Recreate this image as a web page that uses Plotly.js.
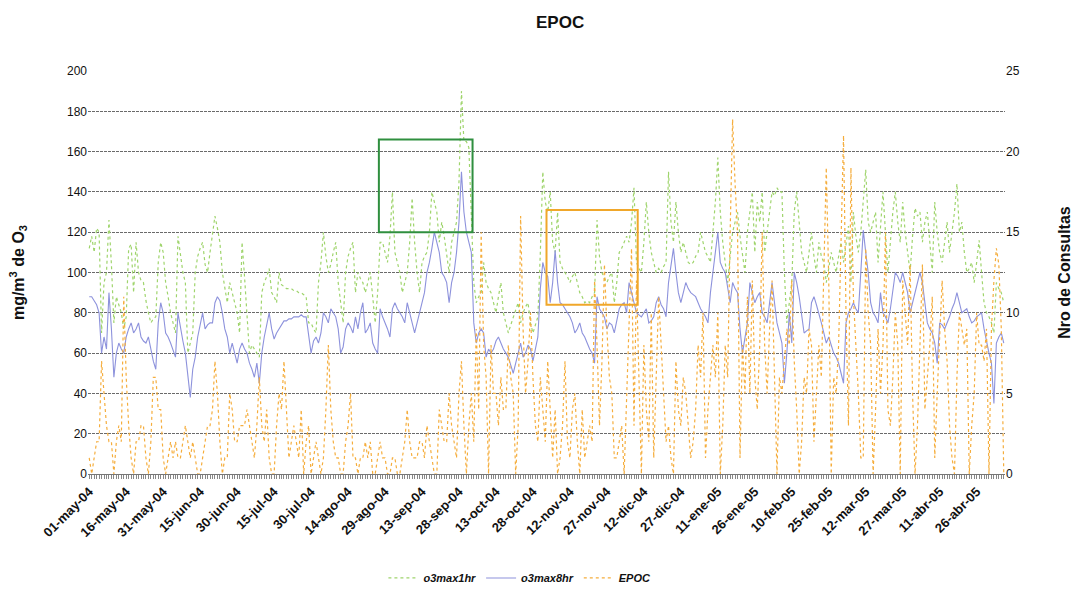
<!DOCTYPE html>
<html>
<head>
<meta charset="utf-8">
<script src="https://cdn.plot.ly/plotly-3.0.1.min.js"></script>
<style>
  html, body { margin: 0; padding: 0; background: #fff; }
  #chart { width: 1073px; height: 590px; }
</style>
</head>
<body>
<div id="chart"></div>
<script>
// Serie diaria desde el 01-may-04 (372 días)
const inicio = new Date(2004, 4, 1);
const numDias = 372;
const mesesAbrev = ['ene', 'feb', 'mar', 'abr', 'may', 'jun', 'jul', 'ago', 'sep', 'oct', 'nov', 'dic'];

// Máximo horario de ozono (mg/m3)
const o3max1hr = [
  112, 118, 110, 122, 120, 70, 95, 100, 126, 104,
  75, 88, 84, 80, 72, 78, 112, 114, 90, 115,
  100, 96, 95, 86, 80, 75, 77, 78, 105, 115,
  110, 95, 88, 80, 75, 70, 118, 108, 100, 95,
  60, 65, 70, 100, 108, 112, 115, 104, 100, 110,
  118, 128, 122, 115, 100, 92, 85, 95, 90, 84,
  80, 70, 115, 98, 80, 60, 64, 62, 60, 58,
  90, 95, 98, 102, 90, 88, 85, 100, 94, 93,
  92, 92, 92, 91, 91, 90, 90, 89, 88, 75,
  75, 72, 70, 95, 105, 120, 108, 100, 104, 110,
  115, 95, 85, 75, 100, 108, 112, 115, 90, 100,
  97, 95, 90, 95, 100, 88, 75, 90, 115, 115,
  110, 105, 118, 140, 110, 105, 100, 90, 95, 100,
  115, 137, 115, 100, 90, 105, 108, 110, 120, 140,
  135, 130, 115, 125, 118, 110, 100, 115, 120, 125,
  145, 190, 165, 165, 162, 130, 95, 85, 88, 90,
  105, 95, 92, 90, 85, 80, 88, 95, 80, 75,
  70, 74, 78, 82, 85, 75, 80, 83, 85, 75,
  70, 74, 78, 110, 150, 135, 130, 140, 115, 110,
  130, 105, 102, 100, 98, 95, 98, 100, 95, 90,
  88, 85, 86, 85, 88, 90, 126, 108, 100, 97,
  95, 98, 100, 85, 95, 110, 112, 115, 118, 115,
  125, 142, 105, 102, 100, 115, 135, 120, 110, 105,
  100, 102, 100, 103, 105, 150, 125, 115, 135, 120,
  110, 115, 110, 105, 104, 105, 108, 110, 120, 115,
  110, 108, 105, 120, 135, 157, 130, 115, 105, 95,
  108, 120, 125, 130, 118, 110, 100, 120, 130, 140,
  110, 135, 125, 140, 110, 120, 130, 140, 138, 142,
  140, 140, 100, 75, 85, 95, 130, 140, 125, 110,
  105, 100, 110, 120, 108, 100, 115, 108, 105, 95,
  102, 110, 105, 100, 108, 115, 105, 115, 123, 95,
  130, 118, 110, 120, 136, 151, 125, 120, 125, 130,
  105, 125, 140, 120, 100, 115, 130, 140, 125, 115,
  135, 120, 110, 100, 118, 132, 128, 130, 115, 125,
  130, 115, 100, 135, 120, 110, 105, 115, 125, 110,
  120, 130, 144, 120, 125, 110, 100, 102, 105, 95,
  105, 116, 100, 85, 80, 78, 75, 70, 95, 92,
  90, 85
];

// Máximo de la media móvil de 8 horas (mg/m3)
const o3max8hr = [
  88, 88, 86, 84, 80, 60, 68, 62, 90, 72,
  48, 60, 65, 62, 60, 68, 72, 75, 70, 72,
  75, 68, 66, 65, 68, 62, 56, 52, 75, 85,
  80, 70, 68, 65, 62, 58, 80, 72, 66, 60,
  48, 38, 52, 58, 68, 75, 80, 72, 74, 75,
  75, 85, 88, 86, 80, 72, 68, 60, 65, 60,
  55, 62, 65, 62, 60, 55, 52, 48, 55, 45,
  60, 68, 75, 80, 72, 67, 70, 72, 74, 76,
  76, 77, 77, 78, 78, 78, 79, 78, 78, 70,
  60, 66, 68, 65, 70, 80, 78, 75, 82, 80,
  78, 72, 60, 63, 72, 75, 73, 70, 78, 72,
  80, 85, 70, 72, 75, 65, 62, 60, 82, 78,
  75, 72, 68, 82, 85, 82, 80, 78, 75, 85,
  80, 75, 70, 75, 80, 85, 90, 100, 105, 112,
  120, 115, 110, 100, 98, 95, 85, 95, 100, 110,
  125, 150, 130, 120, 115, 110, 75, 65, 70, 72,
  70, 58, 62, 60, 62, 66, 68, 65, 62, 60,
  58, 54, 50, 55, 60, 65, 58, 60, 64, 62,
  56, 62, 68, 92, 105, 100, 98, 85, 95, 111,
  95, 85, 84, 82, 80, 78, 75, 70, 72, 75,
  70, 68, 65, 62, 60, 55, 88, 82, 80, 78,
  72, 75, 74, 70, 76, 82, 84, 85, 80, 95,
  90, 85, 80, 79, 78, 80, 82, 75, 76, 78,
  85, 88, 84, 82, 78, 95, 105, 112, 100, 90,
  85, 90, 95, 92, 90, 89, 88, 85, 82, 80,
  78, 75, 90, 100, 110, 120, 105, 102, 100, 92,
  85, 95, 92, 90, 72, 60, 68, 75, 95, 90,
  85, 88, 90, 80, 78, 75, 85, 95, 85, 75,
  70, 65, 45, 60, 80, 65, 100, 95, 88, 80,
  70, 71, 72, 85, 88, 84, 80, 75, 70, 65,
  68, 64, 60, 58, 55, 50, 45, 75, 80, 82,
  85, 82, 80, 100, 121, 110, 100, 85, 80, 78,
  75, 90, 80, 78, 75, 82, 90, 100, 98, 95,
  100, 95, 90, 80, 85, 90, 95, 100, 95, 85,
  75, 72, 70, 65, 55, 75, 74, 72, 75, 78,
  82, 85, 90, 85, 80, 81, 82, 78, 75, 76,
  78, 79, 80, 72, 65, 60, 55, 35, 65, 68,
  70, 65
];

// Número de consultas por EPOC
const epoc = [
  1, 0, 1, 2, 2, 7, 5, 3, 2, 2,
  0, 2, 3, 2, 11, 6, 3, 1, 0, 2,
  2, 3, 3, 1, 0, 2, 6, 6, 4, 4,
  1, 0, 1, 2, 1, 2, 1, 1, 2, 3,
  2, 1, 2, 1, 0, 0, 1, 2, 3, 3,
  4, 7, 5, 2, 0, 1, 1, 5, 4, 2,
  2, 3, 3, 3, 4, 3, 2, 1, 3, 6,
  3, 2, 4, 1, 0, 0, 3, 5, 4, 7,
  4, 1, 2, 3, 2, 1, 4, 0, 2, 3,
  0, 1, 2, 1, 0, 1, 4, 8, 4, 2,
  1, 1, 0, 0, 2, 3, 5, 1, 1, 0,
  1, 1, 2, 1, 2, 0, 0, 1, 2, 1,
  1, 0, 0, 1, 1, 0, 0, 1, 2, 4,
  2, 1, 1, 1, 2, 2, 1, 3, 2, 1,
  0, 0, 4, 3, 2, 2, 5, 3, 2, 1,
  5, 7, 3, 0, 3, 5, 2, 9, 4, 15,
  8, 6, 0, 8, 5, 5, 3, 6, 4, 4,
  8, 6, 5, 0, 3, 16, 9, 5, 7, 10,
  6, 3, 2, 6, 4, 2, 7, 4, 1, 4,
  0, 1, 3, 7, 2, 1, 4, 5, 2, 0,
  4, 1, 2, 3, 2, 12, 8, 3, 7, 13,
  9, 6, 5, 1, 1, 2, 3, 0, 5, 10,
  14, 3, 12, 6, 0, 8, 4, 2, 10, 1,
  6, 11, 8, 5, 2, 3, 1, 0, 7, 4,
  3, 6, 5, 3, 1, 2, 4, 8, 6, 10,
  1, 4, 6, 8, 6, 10, 0, 3, 8, 6,
  15, 22, 18, 15, 1, 8, 5, 11, 5, 12,
  6, 4, 8, 15, 8, 5, 9, 12, 6, 0,
  6, 5, 7, 9, 8, 12, 7, 4, 0, 2,
  6, 5, 9, 8, 2, 5, 8, 6, 13, 19,
  12, 0, 6, 5, 8, 14, 21, 10, 3, 19,
  11, 8, 5, 1, 1, 14, 10, 8, 0, 4,
  9, 5, 8, 15, 4, 3, 6, 10, 8, 0,
  12, 10, 8, 13, 5, 0, 3, 8, 13, 4,
  6, 8, 11, 1, 5, 9, 12, 9, 7, 3,
  1, 0, 6, 10, 9, 8, 9, 0, 3, 5,
  10, 8, 8, 7, 9, 0, 9, 12, 14, 13,
  9, 0
];

// Etiquetas de fecha dd-mmm-aa
const fechas = [];
for (let i = 0; i < numDias; i++) {
  const d = new Date(inicio.getFullYear(), inicio.getMonth(), inicio.getDate() + i);
  const dd = String(d.getDate()).padStart(2, '0');
  const aa = String(d.getFullYear() % 100).padStart(2, '0');
  fechas.push(dd + '-' + mesesAbrev[d.getMonth()] + '-' + aa);
}
// Rótulo cada 15 días; marca en todos los días
const paso = 15;
const textoTicks = fechas.map((f, i) => (i % paso === 0 ? f : ''));

const fuente = 'Liberation Sans, Arial, sans-serif';

const trazas = [
  {
    name: 'o3max1hr', x: fechas, y: o3max1hr, type: 'scatter', mode: 'lines',
    line: { color: '#9fd46c', width: 1.2, dash: 'dot' }, yaxis: 'y'
  },
  {
    name: 'o3max8hr', x: fechas, y: o3max8hr, type: 'scatter', mode: 'lines',
    line: { color: '#8d92dc', width: 1.1 }, yaxis: 'y'
  },
  {
    name: 'EPOC', x: fechas, y: epoc, type: 'scatter', mode: 'lines',
    line: { color: '#f5ad3c', width: 1.2, dash: 'dot' }, yaxis: 'y2'
  }
];

const layout = {
  width: 1073, height: 590,
  margin: { l: 88, r: 68, t: 71, b: 116, autoexpand: false },
  paper_bgcolor: '#ffffff', plot_bgcolor: '#ffffff',
  showlegend: true,
  title: {
    text: '<b>EPOC</b>', x: 0.522, xanchor: 'center', y: 0.962, yanchor: 'middle',
    font: { family: fuente, size: 17, color: '#111' }
  },
  xaxis: {
    type: 'category', automargin: false,
    range: [-0.5, numDias - 0.5],
    tickmode: 'array', tickvals: fechas, ticktext: textoTicks,
    tickangle: -45, ticks: 'outside', ticklen: 4, tickcolor: '#888', tickwidth: 1,
    showgrid: false, zeroline: false,
    showline: true, linecolor: '#777', linewidth: 1,
    tickfont: { family: fuente, size: 13, color: '#111', weight: 'bold' }
  },
  yaxis: {
    range: [0, 200], tickmode: 'linear', tick0: 0, dtick: 20, automargin: false,
    showgrid: true, gridcolor: '#6a6a6a', gridwidth: 1, griddash: '3px,1px',
    zeroline: false, showline: false, ticks: '',
    tickfont: { family: fuente, size: 12, color: '#111' },
    title: {
      text: '<b>mg/m<sup>3</sup> de O<sub>3</sub></b>', standoff: 38,
      font: { family: fuente, size: 16, color: '#111' }
    }
  },
  yaxis2: {
    range: [0, 25], tickmode: 'linear', tick0: 0, dtick: 5, automargin: false,
    overlaying: 'y', side: 'right',
    showgrid: false, zeroline: false, showline: false, ticks: '',
    tickfont: { family: fuente, size: 12, color: '#111' },
    title: {
      text: '<b>Nro de Consultas</b>', standoff: 40,
      font: { family: fuente, size: 16, color: '#111' }
    }
  },
  legend: {
    orientation: 'h', x: 0.471, xanchor: 'center', y: -0.258, yanchor: 'middle',
    font: { family: fuente, size: 11, color: '#111', style: 'italic', weight: 'bold' },
    itemwidth: 30, tracegroupgap: 0
  },
  shapes: [
    {
      type: 'rect', xref: 'x', yref: 'y', x0: 117.5, x1: 155.5, y0: 120, y1: 166,
      line: { color: '#2f8f3f', width: 2 }, fillcolor: 'rgba(0,0,0,0)'
    },
    {
      type: 'rect', xref: 'x', yref: 'y', x0: 185.5, x1: 222.5, y0: 84, y1: 131,
      line: { color: '#f0a72a', width: 2 }, fillcolor: 'rgba(0,0,0,0)'
    }
  ]
};

Plotly.newPlot('chart', trazas, layout, { displayModeBar: false, staticPlot: true });
</script>
</body>
</html>
